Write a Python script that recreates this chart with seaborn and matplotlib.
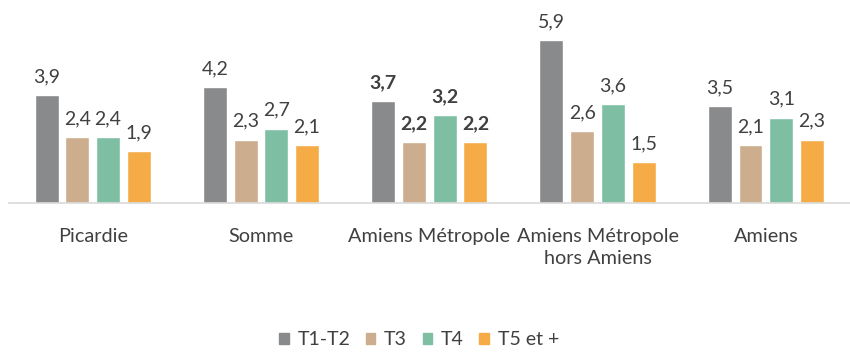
import matplotlib
matplotlib.use("Agg")
import matplotlib.pyplot as plt
import seaborn as sns
import pandas as pd

categories = ["Picardie", "Somme", "Amiens Métropole", "Amiens Métropole\nhors Amiens", "Amiens"]
series = ["T1-T2", "T3", "T4", "T5 et +"]
t1_t2 = [3.9, 4.2, 3.7, 5.9, 3.5]
t3 = [2.4, 2.3, 2.2, 2.6, 2.1]
t4 = [2.4, 2.7, 3.2, 3.6, 3.1]
t5 = [1.9, 2.1, 2.2, 1.5, 2.3]
colors = ["#898A8C", "#CCAE8E", "#7EBFA4", "#F5AC47"]
bold_category = "Amiens Métropole"

rows = []
for name, vals in zip(series, [t1_t2, t3, t4, t5]):
    for cat, v in zip(categories, vals):
        rows.append({"cat": cat, "serie": name, "val": v})
df = pd.DataFrame(rows)

sns.set_theme(style="white")
plt.rcParams["font.family"] = ["Lato", "DejaVu Sans"]

fig = plt.figure(figsize=(8.5, 3.52), dpi=100)
ax = fig.add_axes([0.01, 0.4233, 0.99, 0.5483])

sns.barplot(data=df, x="cat", y="val", hue="serie", order=categories,
            hue_order=series, palette=colors, width=0.73, gap=0.22,
            saturation=1, ax=ax, legend=True)

ax.set_ylim(0, 7)
ax.set_xlim(-0.5, len(categories) - 0.5)
ax.set_xlabel("")
ax.set_ylabel("")
ax.set_yticks([])
for s in ["top", "left", "right"]:
    ax.spines[s].set_visible(False)
ax.spines["bottom"].set_color("#D9D9D9")
ax.spines["bottom"].set_linewidth(1.2)
ax.tick_params(axis="x", length=0, pad=18, labelsize=14.3, labelcolor="#404040")
for lbl in ax.get_xticklabels():
    lbl.set_linespacing(1.35)

for cont, vals in zip(ax.containers, [t1_t2, t3, t4, t5]):
    for bar, cat, v in zip(cont, categories, vals):
        ax.annotate(f"{v:.1f}".replace(".", ","),
                    (bar.get_x() + bar.get_width() / 2, bar.get_height()),
                    xytext=(0, 7), textcoords="offset points",
                    ha="center", va="bottom", fontsize=14, color="#404040",
                    fontweight="bold" if cat == bold_category else "normal")

ax.legend_.remove()
handles = [plt.Rectangle((0, 0), 1, 1, color=c) for c in colors]
fig.legend(handles, series, loc="center", bbox_to_anchor=(0.493, 0.035),
           ncol=4, frameon=False, fontsize=14, handlelength=0.5,
           handleheight=0.5, handletextpad=0.45, columnspacing=0.8,
           labelcolor="#404040")

fig.savefig("out.png", dpi=100)
